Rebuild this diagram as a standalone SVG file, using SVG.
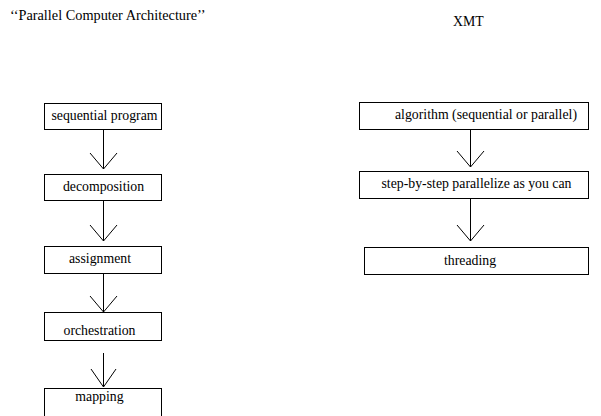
<svg xmlns="http://www.w3.org/2000/svg" width="601" height="416" viewBox="0 0 601 416">
<style>
text{font-family:"Liberation Serif","Times New Roman",serif;font-size:13.8px;fill:#000}
.m{text-anchor:middle}
.b{fill:#fff;stroke:#000;stroke-width:1}
.c{fill:none;stroke:#000;stroke-width:1}
</style>
<rect width="601" height="416" fill="#fff"/>
<text x="10" y="20" style="font-size:14.3px">‘‘Parallel Computer Architecture’’</text>
<text x="453" y="26">XMT</text>
<g id="connectors">
<path class="c" d="M103.5 129V169M90 153L103.5 169L117 153"/>
<path class="c" d="M103.5 200V241M90 225L103.5 241L117 225"/>
<path class="c" d="M103.5 273V312M90 296L103.5 312L117 296"/>
<path class="c" d="M103.5 353V387M91 369L103.5 387L116 369"/>
<path class="c" d="M470.5 129V167M457 151L470.5 167L484 151"/>
<path class="c" d="M470.5 198V241M457 225L470.5 241L484 225"/>
</g>
<g id="n1"><rect class="b" x="44.5" y="103.5" width="117" height="26"/><text class="m" x="104.5" y="120">sequential program</text></g>
<g id="n2"><rect class="b" x="44.5" y="174.5" width="117" height="26"/><text class="m" x="103.5" y="191">decomposition</text></g>
<g id="n3"><rect class="b" x="44.5" y="246.5" width="117" height="27"/><text class="m" x="100" y="263">assignment</text></g>
<g id="n4"><rect class="b" x="44.5" y="312.5" width="117" height="28"/><text class="m" x="99.5" y="335">orchestration</text></g>
<g id="n5"><rect class="b" x="44.5" y="388.5" width="117" height="30"/><text class="m" x="99.5" y="401">mapping</text></g>
<g id="n6"><rect class="b" x="359.5" y="102.5" width="229" height="27"/><text class="m" x="486" y="119">algorithm (sequential or parallel)</text></g>
<g id="n7"><rect class="b" x="359.5" y="171.5" width="229" height="27"/><text class="m" x="476.5" y="188">step-by-step parallelize as you can</text></g>
<g id="n8"><rect class="b" x="364.5" y="247.5" width="224" height="27"/><text class="m" x="470" y="265">threading</text></g>
</svg>
